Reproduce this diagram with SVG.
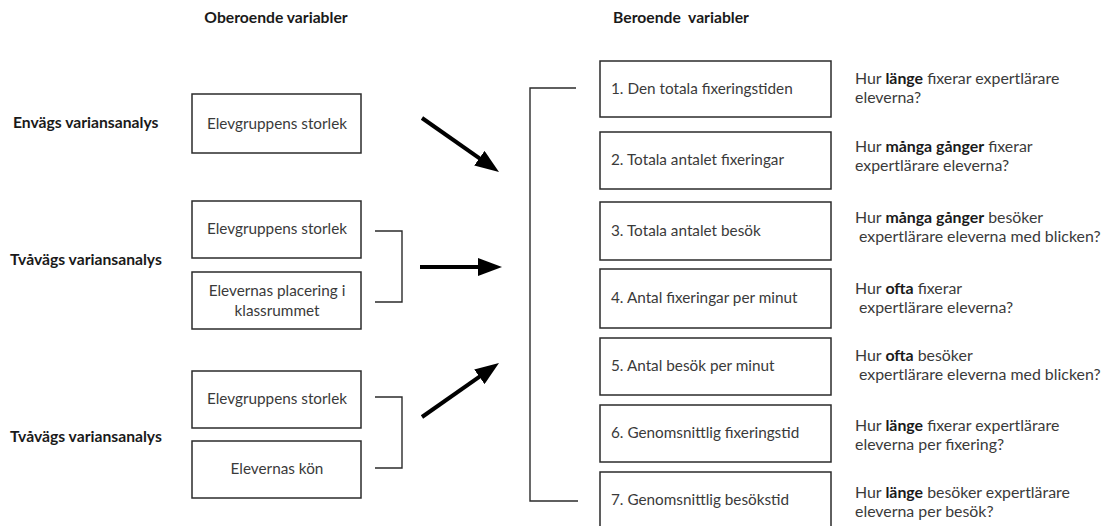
<svg xmlns="http://www.w3.org/2000/svg" width="1113" height="526" viewBox="0 0 1113 526">
<style>
.box{fill:#fff;stroke:#2b2b2b;stroke-width:1.5}
.t{font-family:Lato,"Liberation Sans",sans-serif;font-size:15.3px;fill:#3a3a3a}
.b{font-family:Lato,"Liberation Sans",sans-serif;font-size:15.7px;font-weight:bold;fill:#1a1a1a}
.q{font-family:Lato,"Liberation Sans",sans-serif;font-size:15.9px;fill:#3a3a3a}
.q tspan.k{font-weight:bold;fill:#1a1a1a}
.br{fill:none;stroke:#2b2b2b;stroke-width:1.4}
.ar{stroke:#000;stroke-width:4;fill:none}
</style>
<defs>
<marker id="ah" viewBox="0 0 24 18" refX="2" refY="9" markerWidth="24" markerHeight="18" markerUnits="userSpaceOnUse" orient="auto">
<path d="M0,0 L24,9 L0,18 z" fill="#000"/>
</marker>
</defs>
<rect width="1113" height="526" fill="#fff"/>

<g id="headings">
<text class="b" x="276" y="23" text-anchor="middle">Oberoende variabler</text>
<text class="b" x="681" y="23" text-anchor="middle" style="white-space:pre">Beroende  variabler</text>
</g>

<g id="labels">
<text class="b" x="13" y="128">Envägs variansanalys</text>
<text class="b" x="10" y="265">Tvåvägs variansanalys</text>
<text class="b" x="10" y="442">Tvåvägs variansanalys</text>
</g>

<g id="iv1">
<rect class="box" x="192" y="94" width="169" height="59"/>
<text class="t" x="277" y="129" text-anchor="middle">Elevgruppens storlek</text>
</g>
<g id="iv2a">
<rect class="box" x="192" y="201" width="169" height="57"/>
<text class="t" x="277" y="234" text-anchor="middle">Elevgruppens storlek</text>
</g>
<g id="iv2b">
<rect class="box" x="192" y="272" width="169" height="57"/>
<text class="t" x="277" y="296" text-anchor="middle">Elevernas placering i</text>
<text class="t" x="277" y="316" text-anchor="middle">klassrummet</text>
</g>
<g id="iv3a">
<rect class="box" x="192" y="371" width="169" height="57"/>
<text class="t" x="277" y="404" text-anchor="middle">Elevgruppens storlek</text>
</g>
<g id="iv3b">
<rect class="box" x="192" y="441" width="169" height="57"/>
<text class="t" x="277" y="474" text-anchor="middle">Elevernas kön</text>
</g>

<g id="dv1">
<rect class="box" x="600" y="61" width="231" height="56"/>
<text class="t" x="611" y="94">1. Den totala fixeringstiden</text>
</g>
<g id="dv2">
<rect class="box" x="600" y="132" width="231" height="57"/>
<text class="t" x="611" y="165">2. Totala antalet fixeringar</text>
</g>
<g id="dv3">
<rect class="box" x="600" y="202" width="231" height="58"/>
<text class="t" x="611" y="236">3. Totala antalet besök</text>
</g>
<g id="dv4">
<rect class="box" x="600" y="269" width="231" height="59"/>
<text class="t" x="611" y="303">4. Antal fixeringar per minut</text>
</g>
<g id="dv5">
<rect class="box" x="600" y="338" width="231" height="57"/>
<text class="t" x="611" y="371">5. Antal besök per minut</text>
</g>
<g id="dv6">
<rect class="box" x="600" y="405" width="231" height="57"/>
<text class="t" x="611" y="438">6. Genomsnittlig fixeringstid</text>
</g>
<g id="dv7">
<rect class="box" x="600" y="472" width="231" height="70"/>
<text class="t" x="611" y="505">7. Genomsnittlig besökstid</text>
</g>

<g id="questions">
<text class="q" x="855" y="84">Hur <tspan class="k">länge</tspan> fixerar expertlärare</text>
<text class="q" x="855" y="103">eleverna?</text>
<text class="q" x="855" y="152">Hur <tspan class="k">många gånger</tspan> fixerar</text>
<text class="q" x="855" y="171">expertlärare eleverna?</text>
<text class="q" x="855" y="223">Hur <tspan class="k">många gånger</tspan> besöker</text>
<text class="q" x="859" y="242">expertlärare eleverna med blicken?</text>
<text class="q" x="855" y="294">Hur <tspan class="k">ofta</tspan> fixerar</text>
<text class="q" x="859" y="313">expertlärare eleverna?</text>
<text class="q" x="855" y="361">Hur <tspan class="k">ofta</tspan> besöker</text>
<text class="q" x="859" y="380">expertlärare eleverna med blicken?</text>
<text class="q" x="855" y="431">Hur <tspan class="k">länge</tspan> fixerar expertlärare</text>
<text class="q" x="855" y="450">eleverna per fixering?</text>
<text class="q" x="855" y="498">Hur <tspan class="k">länge</tspan> besöker expertlärare</text>
<text class="q" x="855" y="517">eleverna per besök?</text>
</g>

<g id="connectors">
<polyline class="br" points="375,231 402,231 402,302 375,302"/>
<polyline class="br" points="375,397 402,397 402,468 375,468"/>
<polyline class="br" points="576,88 530,88 530,501 578,501"/>
<line class="ar" x1="422" y1="118" x2="481" y2="159.4" marker-end="url(#ah)"/>
<line class="ar" x1="420" y1="267" x2="480" y2="267" marker-end="url(#ah)"/>
<line class="ar" x1="422" y1="417" x2="481" y2="375.6" marker-end="url(#ah)"/>
</g>
</svg>
